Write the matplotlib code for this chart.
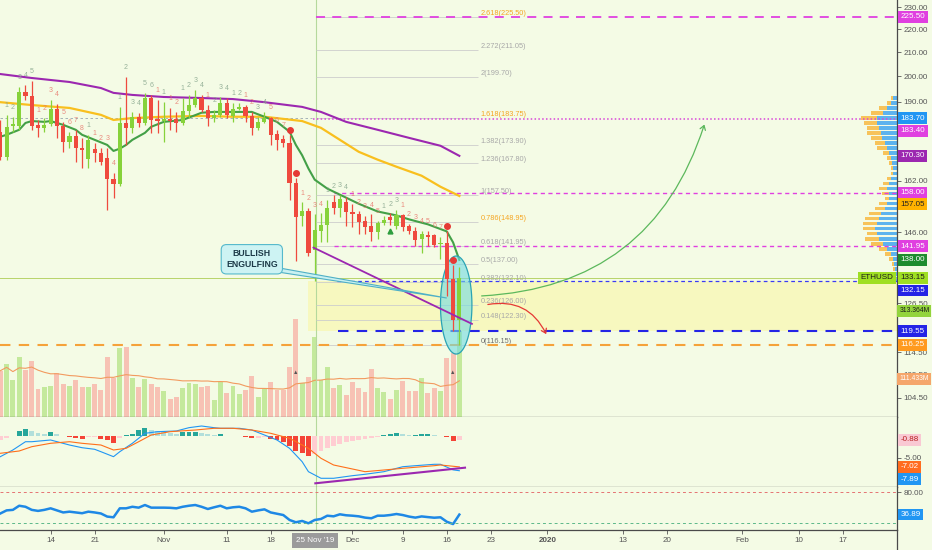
import numpy as np
import pandas as pd
import matplotlib
matplotlib.use("Agg")
import matplotlib.pyplot as plt
from matplotlib.patches import FancyArrowPatch, Polygon
from matplotlib.lines import Line2D
from matplotlib.ticker import NullLocator, NullFormatter
from matplotlib.transforms import blended_transform_factory

plt.rcParams['font.family'] = ['Liberation Sans', 'DejaVu Sans']

# ETHUSD daily candles, 6 Oct 2019 -> 18 Dec 2019
first_day = '2019-10-06'
opens = [178.8, 170.0, 180.8, 181.0, 193.7, 192.2, 181.3, 180.2, 181.7, 187.3,
         181.0, 175.2, 177.3, 173.1, 169.3, 172.7, 171.4, 169.5, 162.6, 161.0,
         182.0, 180.2, 184.3, 182.0, 191.4, 183.5, 182.7, 183.5, 183.5, 182.0,
         186.5, 188.7, 191.4, 186.9, 183.8, 185.0, 189.5, 184.6, 187.3, 188.0,
         184.6, 180.2, 182.4, 183.8, 178.1, 176.2, 174.8, 161.3, 150.7, 152.2,
         140.7, 146.2, 148.0, 155.0, 153.4, 155.3, 151.9, 151.3, 149.2, 147.7,
         145.9, 148.6, 150.4, 147.7, 151.0, 147.7, 146.2, 143.9, 145.0, 145.0,
         142.4, 142.7, 132.8, 122.2]
highs = [183.1, 185.0, 184.2, 195.7, 196.5, 198.1, 183.1, 183.8, 190.6, 189.1,
         182.4, 178.8, 179.5, 176.6, 177.7, 174.8, 173.1, 173.1, 164.6, 188.0,
         199.7, 186.1, 185.8, 193.4, 192.6, 190.6, 189.8, 187.6, 186.1, 191.4,
         192.6, 194.5, 192.6, 188.7, 186.9, 191.8, 191.4, 189.5, 189.5, 188.7,
         186.1, 184.3, 186.1, 184.3, 179.5, 177.7, 177.7, 162.9, 155.0, 153.4,
         151.3, 151.6, 155.9, 157.2, 157.5, 156.8, 154.4, 152.2, 150.7, 151.3,
         149.2, 150.7, 151.6, 152.8, 151.3, 148.3, 147.4, 146.2, 146.2, 145.3,
         144.5, 146.2, 136.5, 136.0]
lows = [169.0, 169.0, 178.8, 179.5, 190.6, 179.5, 177.0, 178.8, 181.0, 176.6,
        171.7, 173.1, 168.3, 166.3, 166.3, 168.3, 167.3, 152.8, 156.5, 160.4,
        174.1, 178.4, 180.6, 181.3, 178.4, 178.4, 175.2, 179.5, 178.8, 181.3,
        183.8, 188.0, 186.1, 181.0, 182.4, 184.3, 183.8, 182.4, 186.9, 182.4,
        177.7, 179.5, 182.0, 174.1, 172.4, 173.4, 155.9, 137.7, 147.7, 139.0,
        132.2, 143.0, 143.0, 151.3, 150.5, 147.7, 147.4, 145.3, 145.3, 143.3,
        143.9, 148.0, 148.0, 146.8, 146.2, 145.3, 141.9, 140.1, 141.9, 141.6,
        138.2, 128.3, 119.6, 116.15]
closes = [170.0, 180.6, 181.5, 193.7, 192.2, 181.0, 180.2, 181.3, 187.3, 181.0,
          175.2, 177.3, 173.1, 172.4, 175.9, 171.4, 168.3, 162.6, 161.0, 182.0,
          180.2, 184.3, 182.0, 191.4, 183.1, 182.7, 183.5, 182.7, 182.0, 186.5,
          188.7, 191.4, 186.9, 183.8, 185.0, 189.5, 185.0, 187.3, 188.0, 184.6,
          180.2, 182.4, 183.8, 177.7, 175.9, 174.8, 161.3, 150.4, 152.5, 140.1,
          146.5, 148.0, 153.4, 153.4, 156.2, 151.9, 151.3, 148.9, 147.4, 145.9,
          148.6, 149.5, 149.5, 151.0, 147.4, 146.2, 143.6, 145.3, 144.5, 142.1,
          142.7, 132.8, 122.2, 133.15]
volumes = [136, 156, 108, 178, 138, 165, 82, 87, 91, 130,
           98, 90, 108, 88, 88, 96, 80, 178, 113, 204,
           207, 113, 88, 111, 98, 88, 76, 52, 57, 84,
           100, 96, 88, 91, 49, 103, 71, 91, 67, 80,
           121, 59, 84, 103, 79, 80, 148, 289, 100, 118,
           235, 108, 148, 84, 93, 64, 103, 84, 73, 140,
           84, 73, 52, 79, 104, 76, 76, 115, 71, 84,
           75, 173, 188, 313.364]

# moving averages (candle index -> value)
ema_fast_idx = [0, 1, 3, 4, 5, 7, 8, 10, 12, 13, 15, 17, 18, 19, 20, 21, 23, 24, 26, 29,
                32, 34, 37, 40, 42, 44, 46, 47, 48, 49, 50, 52, 55, 57, 60, 63, 65, 68, 71, 72, 73]
ema_fast = [177.0, 177.7, 179.5, 182.0, 182.7, 182.4, 182.7, 181.3, 179.5, 177.7,
            175.9, 174.1, 172.0, 172.8, 174.1, 175.9, 178.4, 180.6, 182.4, 183.1,
            185.8, 186.1, 186.1, 186.1, 184.3, 182.4, 178.8, 174.1, 170.5, 166.0,
            162.3, 159.4, 156.5, 154.6, 152.2, 151.0, 149.8, 148.3, 146.2, 143.0, 138.0]
ema_mid_idx = [0, 5, 11, 16, 18, 21, 26, 32, 37, 42, 48, 51, 54, 57, 60, 63, 67, 70, 73]
ema_mid = [189.8, 188.7, 187.6, 185.0, 183.1, 183.8, 184.3, 184.6, 184.3, 184.3,
           182.7, 180.2, 175.9, 171.7, 169.0, 166.6, 163.6, 160.0, 157.05]
ema_slow_idx = [0, 5, 11, 16, 18, 21, 26, 32, 37, 42, 48, 51, 55, 60, 65, 70, 73]
ema_slow = [200.9, 199.3, 197.7, 195.3, 193.4, 192.6, 191.8, 191.4, 191.0, 189.8,
            188.0, 186.1, 182.4, 179.5, 176.6, 173.8, 170.3]

# MACD
macd_idx = [0, 2, 4, 5, 8, 11, 13, 15, 16, 18, 19, 21, 23, 25, 28, 30, 32, 34, 35, 38,
            40, 42, 44, 46, 48, 49, 51, 53, 56, 58, 61, 64, 66, 69, 70, 72, 73]
macd_line = [-4.70, -3.18, -1.30, -1.30, -0.91, -2.05, -2.66, -3.02, -3.57, -4.70,
             -3.57, -1.66, 0.61, 0.98, 1.14, 1.89, 2.27, 1.89, 1.75, 1.75,
             1.36, 0.23, -0.91, -2.80, -5.84, -8.11, -9.61, -9.61, -9.02, -8.70,
             -8.11, -6.98, -6.75, -6.43, -6.43, -7.70, -7.89]
signal_idx = [0, 3, 5, 8, 11, 13, 16, 18, 20, 22, 24, 27, 31, 34, 37, 40, 43, 46, 49, 51,
              53, 56, 58, 61, 64, 66, 69, 70, 73]
signal_line = [-3.93, -3.41, -2.43, -1.66, -1.30, -1.66, -2.05, -3.18, -2.80, -1.30,
               0.23, 0.98, 1.36, 1.75, 1.75, 1.36, 0.61, -0.52, -2.80, -5.07,
               -6.59, -7.50, -8.11, -7.73, -7.34, -7.11, -6.75, -6.59, -7.02]
macd_hist = [-0.9, -0.45, 0.0, 1.1, 1.6, 1.1, 0.7, 0.45, 0.9, 0.45,
             0.05, -0.25, -0.45, -0.7, -0.25, -0.25, -0.7, -0.9, -1.6, -0.45,
             0.25, 0.45, 1.35, 1.8, 1.35, 1.1, 0.9, 0.7, 0.45, 0.9,
             0.9, 0.9, 0.7, 0.45, 0.25, 0.45, 0.1, 0.05, 0.0, -0.25,
             -0.45, -0.45, -0.25, -0.7, -0.9, -1.35, -2.3, -3.4, -3.9, -4.5,
             -4.1, -3.4, -2.7, -2.3, -1.8, -1.35, -1.1, -0.9, -0.7, -0.45,
             -0.25, 0.25, 0.45, 0.7, 0.45, 0.25, 0.25, 0.45, 0.45, 0.25,
             0.05, -0.25, -1.1, -0.88]

# RSI
rsi = [39, 45, 46, 54, 52, 46, 44, 46, 49, 45,
       41, 42.5, 41, 39.5, 42.5, 41, 39, 33, 31.6, 49,
       49, 52, 50.3, 55.4, 50.3, 50.3, 50.3, 50, 49, 52,
       54, 55.4, 52, 47.7, 51, 54, 49, 51, 52, 49,
       42.5, 45, 47, 41, 38.5, 36, 26.4, 22, 24.5, 20,
       26.4, 28.4, 34.7, 33.5, 37.4, 35.5, 34.7, 33.5, 31, 29.7,
       34.7, 34.7, 36, 38, 36, 33, 31, 33.3, 32, 30.8,
       31.6, 23, 18.5, 36.89]

# TD sequential counts above candles
td_count = [0, 1, 2, 3, 4, 5, 1, 2, 3, 4, 5, 6, 7, 8, 1, 1, 2, 3, 4, 1, 2, 3, 4, 5, 6, 1, 1,
            1, 2, 1, 2, 3, 4, 1, 2, 3, 4, 1, 2, 1, 2, 3, 4, 5, 6, 7, 0, 0, 1, 2, 3, 4, 1, 2,
            3, 4, 1, 2, 3, 4, 5, 1, 2, 3, 1, 2, 3, 4, 5, 6, 7, 0, 0, 0]
td_side = ('gggggg' 'rrrrrrrr' 'g' 'rrrr' 'gggggg' 'r' 'g' 'rr' 'gggg' 'r' 'ggggg' 'rr' 'gg'
           'rrrrrrrrr' 'gggg' 'rrrrr' 'ggg' 'rrrrrrrrrr')
td_nine = [46, 47, 71, 72]

# fibonacci extension
fib_ratio = ['0', '0.148', '0.236', '0.382', '0.5', '0.618', '0.786', '1', '1.236',
             '1.382', '1.618', '2', '2.272', '2.618']
fib_price = [116.15, 122.30, 126.00, 132.10, 137.00, 141.95, 148.95, 157.50, 167.80,
             173.90, 183.75, 199.70, 211.05, 225.50]

# visible-range volume profile (top row to bottom row)
profile_total = [6, 10, 18, 26, 36, 33, 30, 30, 26, 22, 20, 14, 10, 8, 6, 6, 10, 14, 18, 15, 12,
                 18, 22, 28, 32, 34, 34, 30, 32, 26, 18, 12, 8, 5, 4, 4, 3, 3, 3, 4, 4]
profile_up = [4, 6, 10, 14, 20, 20, 18, 16, 15, 12, 10, 8, 6, 5, 4, 4, 6, 8, 10, 8, 8,
              10, 12, 16, 18, 20, 22, 20, 18, 14, 10, 6, 4, 3, 2, 2, 2, 2, 2, 2, 2]

tick_days = ['2019-10-14', '2019-10-21', '2019-11-01', '2019-11-11', '2019-11-18', '2019-12-01',
             '2019-12-09', '2019-12-16', '2019-12-23', '2020-01-01', '2020-01-13', '2020-01-20',
             '2020-02-01', '2020-02-10', '2020-02-17']
tick_names = ['14', '21', 'Nov', '11', '18', 'Dec', '9', '16', '23', '2020', '13', '20',
              'Feb', '10', '17']
cursor_day = '2019-11-25'
price_ticks = [230, 220, 210, 200, 190, 162, 146, 126.5, 114.5, 109.5, 104.5]

BG = '#f4fbe5'
UP, DOWN = '#86d23a', '#ef4a3e'
VOL_UP, VOL_DOWN = '#c4e99c', '#f7c2b4'
MAG = '#e040e0'
BLUE = '#2424e6'
LIME = '#9fdf22'
TXT = '#555555'

dates = pd.date_range(first_day, periods=len(closes), freq='D')
idx = np.arange(len(closes))


def day_pos(d):
    return (pd.Timestamp(d) - dates[0]).days


fig = plt.figure(figsize=(9.32, 5.5), dpi=100, facecolor=BG)
FW, FH, AXR = 932, 550, 897
XMAX = 142.6
PMIN, PMAX = 100.6, 233.3


def pane(top, bottom, face):
    return fig.add_axes([0, 1 - bottom / FH, AXR / FW, (bottom - top) / FH], facecolor=face)


axv = pane(0, 416.5, BG)
axp = pane(0, 416.5, 'none')
ax = pane(0, 416.5, 'none')
axm = pane(416.5, 487, BG)
axr = pane(487, 530, BG)

for a in (axv, axp, ax, axm, axr):
    a.set_xlim(-0.05, XMAX)
    for s in a.spines.values():
        s.set_visible(False)
    a.tick_params(bottom=False, labelbottom=False, left=False, labelleft=False)
for a in (ax, axm, axr):
    for s in ('bottom', 'right'):
        a.spines[s].set_visible(True)
        a.spines[s].set_color('#4a4a4a')
        a.spines[s].set_linewidth(0.9)
    a.yaxis.tick_right()
    a.tick_params(axis='y', right=True, labelright=True, labelsize=5.8, colors=TXT,
                  length=3, width=0.6, pad=1.5)
axv.set_yticks([])
axp.set_yticks([])

for a in (ax, axp):
    a.set_yscale('log')
    a.yaxis.set_minor_locator(NullLocator())
    a.yaxis.set_minor_formatter(NullFormatter())
    a.set_ylim(PMIN, PMAX)
ax.set_yticks(price_ticks, labels=[f'{v:.2f}' for v in price_ticks])
ax.yaxis.set_minor_locator(NullLocator())
ax.set_ylim(PMIN, PMAX)

# volume + its average
o, h, l, c = map(np.array, (opens, highs, lows, closes))
up = c >= o
axv.bar(idx, volumes, width=0.78, color=[VOL_UP if u else VOL_DOWN for u in up], lw=0)
axv.plot(idx, pd.Series(volumes).rolling(20, min_periods=1).mean(), color='#f29a5f', lw=0.8)
for k in (47, 72):
    axv.text(k, 132, '\u25b2', ha='center', va='center', fontsize=4, color='#555555')
axv.set_ylim(0, 1237)

# volume profile
axp.set_xlim(AXR, 0)
levels = np.geomspace(191.5, 127.5, len(profile_total))
axp.barh(levels, profile_total, height=levels * 0.0072, color='#f7c35a', lw=0)
axp.barh(levels, profile_up, height=levels * 0.0072, color='#5db3ee', lw=0)

# zones and levels
ax.fill_between([49, XMAX], 119.55, 132.15, color='#f7f8bf', lw=0, zorder=1)
cursor = day_pos(cursor_day) + 0.2
for a in (ax, axm, axr):
    a.axvline(cursor, color='#b5d99c', lw=0.8, zorder=1)
ax.axhline(133.15, color='#b8d36a', lw=0.7, zorder=2)
ax.hlines(fib_price, 50.2, 76.0, colors='#cdcdcd', lw=0.6, zorder=2)
for r, v in zip(fib_ratio, fib_price):
    col = '#f5a623' if r in ('0.786', '1.618', '2.618') else ('#6f6f6f' if r == '0' else '#a8a8a8')
    ax.text(76.4, v, f'{r}({v:.2f})', fontsize=5.3, color=col, ha='left', va='bottom', zorder=3)

ax.hlines(183.70, 0, 49.5, colors='#9aa8b0', lw=0.6, linestyles=(0, (3, 3)), zorder=2)
ax.hlines(225.50, 50.2, XMAX, colors=MAG, lw=1.3, linestyles=(0, (5, 4)), zorder=3)
ax.hlines(183.40, 49.7, XMAX, colors='#d946d9', lw=1.1, linestyles=(0, (1, 1.5)), zorder=3)
ax.hlines([158.00, 141.95], 53.0, XMAX, colors=MAG, lw=1.0, linestyles=(0, (3, 2.5)), zorder=3)
ax.hlines(132.15, 53.5, XMAX, colors='#3a3af5', lw=0.9, linestyles=(0, (3, 2.5)), zorder=3)
ax.hlines(119.55, 53.7, XMAX, colors=BLUE, lw=1.5, linestyles=(0, (5, 4)), zorder=3)
ax.hlines(116.25, 0, XMAX, colors='#f5a23a', lw=1.5, linestyles=(0, (5, 4)), zorder=3)

# moving averages
ax.plot(ema_slow_idx, ema_slow, color='#9c27b0', lw=1.5, zorder=3)
ax.plot(ema_mid_idx, ema_mid, color='#f9bf1e', lw=1.6, zorder=3)
ax.plot(ema_fast_idx, ema_fast, color='#43a047', lw=1.5, zorder=3)

# ellipse around the engulfing pair
t = np.linspace(0, 2 * np.pi, 120)
ax.fill(72.5 + 2.5 * np.cos(t), 126.0 * np.exp(0.099 * np.sin(t)),
        fc=(0.44, 0.86, 0.89, 0.6), ec='#2aa3b4', lw=0.9, zorder=3.5)

# candles
ccol = [UP if u else DOWN for u in up]
ax.vlines(idx, l, h, colors=ccol, lw=0.9, zorder=4)
ax.bar(idx, np.maximum(np.abs(c - o), 0.3), bottom=np.minimum(o, c), width=0.66,
       color=ccol, lw=0, zorder=5)

for k, n in enumerate(td_count):
    if n:
        ax.text(k, highs[k] * 1.012, str(n), ha='center', va='bottom', fontsize=5,
                color='#86a58c' if td_side[k] == 'g' else '#e8776c', alpha=0.85, zorder=6)
ax.plot(td_nine, [highs[k] * 1.01 for k in td_nine], 'o', color='#e53935', ms=4.0, zorder=6)
ax.plot(62, 146.3, marker='^', color='#2e9e3e', ms=3.5, zorder=6)

# drawings
ax.plot([49.8, 75.0], [141.5, 121.3], color='#9c27b0', lw=1.3, zorder=6)
ax.add_patch(Polygon([(43.7, 136.0), (43.7, 134.8), (71.0, 127.8)], closed=True,
                     fc='#c9f1f1', ec='#4fb0c6', lw=0.8, zorder=6))
ax.text(40.0, 138.2, 'BULLISH\nENGULFING', ha='center', va='center', fontsize=6.3,
        fontweight='bold', color='#1d3a48', linespacing=1.25, zorder=7,
        bbox=dict(boxstyle='round,pad=0.55,rounding_size=0.6', fc='#cdf3f3', ec='#55b9cc', lw=0.8))
ax.add_patch(FancyArrowPatch((76.1, 128.3), (112.1, 182.4), connectionstyle='arc3,rad=0.35',
                             arrowstyle='->,head_length=3,head_width=2', color='#5cb85c',
                             lw=0.9, zorder=6))
ax.add_patch(FancyArrowPatch((77.1, 126.0), (87.0, 118.2), connectionstyle='arc3,rad=-0.4',
                             arrowstyle='->,head_length=3,head_width=2', color='#e53935',
                             lw=0.9, zorder=6))

# MACD pane
hist_col = []
for k, v in enumerate(macd_hist):
    prev = macd_hist[k - 1] if k else v
    if v >= 0:
        hist_col.append('#26a69a' if v >= prev else '#b2dfdb')
    else:
        hist_col.append('#f44336' if v < prev else '#ffcdd2')
axm.bar(idx, macd_hist, width=0.78, color=hist_col, lw=0)
axm.plot(macd_idx, macd_line, color='#2196f3', lw=0.8)
axm.plot(signal_idx, signal_line, color='#ff6f1a', lw=0.8)
axm.plot([50.1, 73.9], [-10.75, -7.2], color='#9c27b0', lw=1.5)
axm.set_ylim(-11.59, 4.43)
axm.set_yticks([-5], labels=['-5.00'])

# RSI pane
axr.plot(idx, rsi, color='#1e88e5', lw=1.8)
axr.axhline(80, color='#e57373', lw=0.7, ls=(0, (3, 3)))
axr.axhline(20, color='#5cb88a', lw=0.7, ls=(0, (3, 3)))
axr.set_ylim(7.0, 90.3)
axr.set_yticks([80], labels=['80.00'])

axr.set_xticks([day_pos(d) for d in tick_days], labels=tick_names)
axr.tick_params(axis='x', bottom=True, labelbottom=True, length=3, width=0.6, colors=TXT,
                labelsize=5.8, pad=2)
for lbl in axr.get_xticklabels():
    if lbl.get_text() == '2020':
        lbl.set_fontweight('bold')
axr.annotate("25 Nov '19", xy=(day_pos(cursor_day), 0), xycoords=axr.get_xaxis_transform(),
             xytext=(0, -7.5), textcoords='offset points', ha='center', va='center',
             fontsize=5.8, color='white', annotation_clip=False, zorder=10,
             bbox=dict(boxstyle='square,pad=0.45', fc='#9b9b9b', ec='none'))


def tag(a, val, text, fc, tc='white', dy=0.0, ha='left', dx=2.5, size=5.8, ytrans=None):
    trans = blended_transform_factory(a.transAxes, ytrans if ytrans is not None else a.transData)
    a.annotate(text, xy=(1, val), xycoords=trans, xytext=(dx, dy),
               textcoords='offset points', ha=ha, va='center', fontsize=size, color=tc,
               annotation_clip=False, zorder=30,
               bbox=dict(boxstyle='square,pad=0.3', fc=fc, ec='none'))


tag(ax, 225.50, '225.50', MAG)
tag(ax, 183.70, '183.70', '#2196f3')
tag(ax, 183.40, '183.40', MAG, dy=-8.5)
tag(ax, 170.30, '170.30', '#9c27b0')
tag(ax, 158.00, '158.00', MAG)
tag(ax, 157.05, '157.05', '#ffb300', '#222222', dy=-5.8)
tag(ax, 141.95, '141.95', MAG)
tag(ax, 138.00, '138.00', '#1e8c2e')
tag(ax, 133.15, '133.15', LIME, '#1a1a1a')
tag(ax, 133.15, 'ETHUSD', LIME, '#1a1a1a', ha='right', dx=-2.5)
tag(ax, 132.15, '132.15', BLUE, dy=-6.5)
tag(ax, 119.55, '119.55', BLUE)
tag(ax, 116.25, '116.25', '#ff9a1f')
tag(ax, 313.364, '313.364M', '#93d43c', '#1a1a1a', dx=1.6, size=4.9, ytrans=axv.transData)
tag(ax, 111.433, '111.433M', '#f5a66b', dx=1.6, size=4.9, ytrans=axv.transData)
tag(axm, -0.88, '-0.88', '#f9c9d3', '#b71c1c')
tag(axm, -7.02, '-7.02', '#ff6d1f')
tag(axm, -7.89, '-7.89', '#2196f3', dy=-6)
tag(axr, 36.89, '36.89', '#2196f3')

fig.add_artist(Line2D([AXR / FW] * 2, [0, 20 / FH], color='#4a4a4a', lw=0.9))

fig.savefig('out.png', dpi=100, facecolor=BG)
